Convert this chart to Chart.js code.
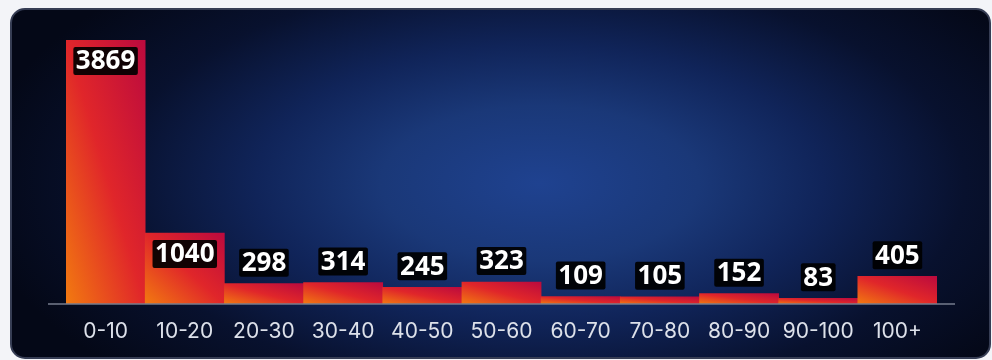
<!DOCTYPE html>
<html>
<head>
<meta charset="utf-8">
<script src="https://cdn.jsdelivr.net/npm/chart.js@4.4.1/dist/chart.umd.min.js"></script>
<style>
  html, body { margin: 0; padding: 0; width: 992px; height: 360px; background: #f3f4f8; overflow: hidden; }
  #card {
    position: absolute; left: 10px; top: 8px; width: 977px; height: 347px;
    border: 2px solid #363d54; border-radius: 15px;
    background: radial-gradient(ellipse 58% 80% at 54% 50%, #1f4290 0%, #1a3878 28%, #102459 50%, #08112e 75%, #040817 100%);
  }
  #wrap { position: absolute; left: 0; top: 0; width: 992px; height: 360px; }
</style>
</head>
<body>
<div id="card"></div>
<div id="wrap"><canvas id="c" width="992" height="360"></canvas></div>
<script>
const categories = ["0-10", "10-20", "20-30", "30-40", "40-50", "50-60", "60-70", "70-80", "80-90", "90-100", "100+"];
const counts = [3869, 1040, 298, 314, 245, 323, 109, 105, 152, 83, 405];

function barGradient(context) {
  const chart = context.chart;
  const xs = chart.scales.x, ys = chart.scales.y;
  if (!xs || !ys || !chart.chartArea) return '#e0262a';
  const i = context.dataIndex;
  const w = xs.getPixelForValue(1) - xs.getPixelForValue(0);
  const cx = xs.getPixelForValue(i);
  const top = ys.getPixelForValue(counts[i]);
  const bottom = ys.getPixelForValue(0);
  const h = Math.max(1, bottom - top);
  const cy = (top + bottom) / 2;
  const k = (w * h) / (w * w + h * h);
  const ux = h * k, uy = -w * k;
  const g = chart.ctx.createLinearGradient(cx - ux, cy - uy, cx + ux, cy + uy);
  g.addColorStop(0, '#f27a10');
  g.addColorStop(0.5, '#e0262a');
  g.addColorStop(1, '#bb0a3e');
  return g;
}

const overlay = {
  id: 'overlay',
  afterDatasetsDraw(chart) {
    const c = chart.ctx;
    const xs = chart.scales.x, ys = chart.scales.y;
    const base = ys.getPixelForValue(0);
    c.save();
    c.strokeStyle = '#767c8e';
    c.lineWidth = 1.5;
    c.beginPath();
    c.moveTo(48, base);
    c.lineTo(955, base);
    c.stroke();
    c.font = 'bold 26px "Noto Sans", "DejaVu Sans", sans-serif';
    c.textAlign = 'center';
    c.textBaseline = 'middle';
    const max = Math.max(...counts);
    counts.forEach((v, i) => {
      const x = xs.getPixelForValue(i);
      const top = ys.getPixelForValue(v);
      const y = v > max * 0.15 ? top + 21 : top - 21;
      const txt = String(v);
      const tw = c.measureText(txt).width;
      const bw = tw + 5, bh = 28;
      c.fillStyle = 'rgba(0,0,0,0.92)';
      c.beginPath();
      c.roundRect(x - bw / 2, y - bh / 2, bw, bh, 2);
      c.fill();
      c.fillStyle = '#ffffff';
      c.fillText(txt, x, y + 1);
    });
    c.restore();
  }
};

new Chart(document.getElementById('c'), {
  type: 'bar',
  data: {
    labels: categories,
    datasets: [{
      data: counts,
      backgroundColor: barGradient,
      borderWidth: 0,
      barPercentage: 1,
      categoryPercentage: 1
    }]
  },
  options: {
    responsive: false,
    animation: false,
    events: [],
    layout: { padding: { left: 66, right: 55, top: 40, bottom: 0 } },
    plugins: { legend: { display: false }, tooltip: { enabled: false } },
    scales: {
      x: {
        grid: { display: false, drawTicks: false },
        border: { display: false },
        ticks: {
          color: '#dde1ea',
          font: { family: 'Inter, "Noto Sans", sans-serif', size: 21 },
          padding: 15,
          maxRotation: 0,
          autoSkip: false
        },
        afterFit(scale) { scale.height = 56; }
      },
      y: {
        display: false,
        min: 0,
        max: Math.max(...counts)
      }
    }
  },
  plugins: [overlay]
});
</script>
</body>
</html>
